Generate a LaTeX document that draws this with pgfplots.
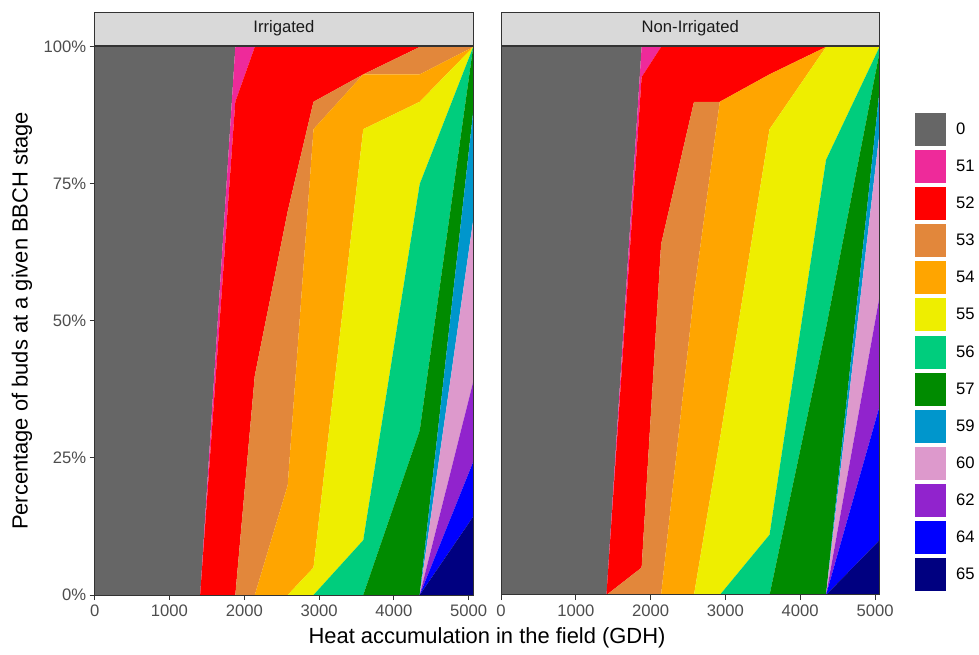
\documentclass[border=0pt]{standalone}
\usepackage{pgfplots}
\pgfplotsset{compat=1.18}
\usepackage{pgfplotstable}
\usepackage{fontspec}
\setmainfont{Liberation Sans}

\definecolor{c0}{RGB}{102,102,102}
\definecolor{c51}{RGB}{238,42,154}
\definecolor{c52}{RGB}{255,0,0}
\definecolor{c53}{RGB}{226,135,59}
\definecolor{c54}{RGB}{255,165,0}
\definecolor{c55}{RGB}{238,238,0}
\definecolor{c56}{RGB}{0,205,125}
\definecolor{c57}{RGB}{0,139,0}
\definecolor{c59}{RGB}{0,150,204}
\definecolor{c60}{RGB}{221,153,204}
\definecolor{c62}{RGB}{145,35,205}
\definecolor{c64}{RGB}{0,0,255}
\definecolor{c65}{RGB}{0,0,128}
\definecolor{gray20}{RGB}{51,51,51}
\definecolor{gray30}{RGB}{77,77,77}
\definecolor{gray10}{RGB}{26,26,26}
\definecolor{gray85}{RGB}{217,217,217}

% Irrigated
\pgfplotstableread{
x    s0  s51 s52  s53 s54  s55  s56  s57  s59  s60  s62  s64 s65
0    100 0   0    0   0    0    0    0    0    0    0    0   0
1410 100 0   0    0   0    0    0    0    0    0    0    0   0
1880 0   10  90   0   0    0    0    0    0    0    0    0   0
2140 0   0   60   40  0    0    0    0    0    0    0    0   0
2580 0   0   30   50  20   0    0    0    0    0    0    0   0
2925 0   0   10   5   80   5    0    0    0    0    0    0   0
3590 0   0   5    0   10   75   10   0    0    0    0    0   0
4345 0   0   0    5   5    15   45   30   0    0    0    0   0
5060 0   0   0    0   0    0    0    11.8 19.8 29.5 14.6 10  14.3
}\irr

% Non-Irrigated
\pgfplotstableread{
x    s0  s51 s52  s53 s54  s55  s56  s57  s59  s60  s62  s64  s65
0    100 0   0    0   0    0    0    0    0    0    0    0    0
1410 100 0   0    0   0    0    0    0    0    0    0    0    0
1880 0   5.5 89.5 5   0    0    0    0    0    0    0    0    0
2140 0   0   36   64  0    0    0    0    0    0    0    0    0
2580 0   0   10   35  55   0    0    0    0    0    0    0    0
2925 0   0   10   0   61.7 28.3 0    0    0    0    0    0    0
3590 0   0   5    0   10   74   11   0    0    0    0    0    0
4345 0   0   0    0   0    20.6 30.7 48.7 0    0    0    0    0
5060 0   0   0    0   0    0    1    7    7.7  29.9 20   24.4 10
}\nonirr

\newcommand{\ticksize}{\fontsize{16.7}{19}\selectfont}
\newcommand{\titlesize}{\fontsize{22}{25}\selectfont}

\pgfplotsset{
  panel/.style={
    scale only axis, width=378.5bp, height=548bp,
    xmin=0, xmax=5060, ymin=0, ymax=100,
    stack plots=y, axis on top,
    axis line style={draw=gray20, line width=1bp},
    tick align=outside, major tick length=5bp,
    every tick/.style={draw=gray20, line width=1bp},
    xtick={0,1000,2000,3000,4000,5000},
    xticklabels={0,1000,2000,3000,4000,5000},
    scaled x ticks=false, scaled y ticks=false,
    xtick pos=bottom, ytick pos=left,
    tick label style={font=\ticksize, text=gray30},
    xticklabel style={yshift=-1bp},
    legend image code/.code={\path[##1, draw=none] (0bp,-16.5bp) rectangle (31bp,16.5bp);},
    every axis title shift=0pt,
    title style={at={(axis description cs:0.5,1)}, anchor=south, yshift=1.5bp,
      fill=gray85, draw=gray20, line width=0.8bp, minimum width=378.5bp,
      minimum height=33bp, inner sep=0pt, font=\ticksize, text=gray10},
  },
}

\newcommand{\stackall}[1]{%
  \addplot[fill=c65, draw=none] table[x=x, y=s65] {#1} \closedcycle;
  \addplot[fill=c64, draw=none] table[x=x, y=s64] {#1} \closedcycle;
  \addplot[fill=c62, draw=none] table[x=x, y=s62] {#1} \closedcycle;
  \addplot[fill=c60, draw=none] table[x=x, y=s60] {#1} \closedcycle;
  \addplot[fill=c59, draw=none] table[x=x, y=s59] {#1} \closedcycle;
  \addplot[fill=c57, draw=none] table[x=x, y=s57] {#1} \closedcycle;
  \addplot[fill=c56, draw=none] table[x=x, y=s56] {#1} \closedcycle;
  \addplot[fill=c55, draw=none] table[x=x, y=s55] {#1} \closedcycle;
  \addplot[fill=c54, draw=none] table[x=x, y=s54] {#1} \closedcycle;
  \addplot[fill=c53, draw=none] table[x=x, y=s53] {#1} \closedcycle;
  \addplot[fill=c52, draw=none] table[x=x, y=s52] {#1} \closedcycle;
  \addplot[fill=c51, draw=none] table[x=x, y=s51] {#1} \closedcycle;
  \addplot[fill=c0, draw=none] table[x=x, y=s0] {#1} \closedcycle;
}

\begin{document}
\begin{tikzpicture}
\useasboundingbox (0,0) rectangle (979bp,655bp);

\begin{axis}[panel, at={(94.7bp,60bp)}, anchor=south west,
  title={Irrigated},
  ytick={0,25,50,75,100},
  yticklabels={0\%,25\%,50\%,75\%,100\%},
  ylabel={Percentage of buds at a given BBCH stage},
  ylabel style={at={(axis description cs:-0.192,0.5)}, anchor=center, font=\titlesize, text=black},
  xlabel={Heat accumulation in the field (GDH)},
  xlabel style={at={(axis description cs:1.0365,-0.0785)}, anchor=center, font=\titlesize, text=black},
]
\stackall{\irr}
\end{axis}

\begin{axis}[panel, at={(501bp,60bp)}, anchor=south west,
  title={Non-Irrigated},
  ytick=\empty,
  reverse legend,
  legend style={at={(axis description cs:1.0938,0.8796)}, anchor=north west,
    draw=none, fill=none, inner sep=0pt, outer sep=0pt,
    row sep=4.1bp, column sep=10bp, font=\ticksize,
    nodes={inner sep=0pt}, cells={anchor=west}},
  legend entries={65,64,62,60,59,57,56,55,54,53,52,51,0},
]
\stackall{\nonirr}
\node[anchor=west, font=\titlesize, inner sep=0pt] at (axis description cs:1.0860,0.917) {BBCH};
\end{axis}
\end{tikzpicture}
\end{document}
